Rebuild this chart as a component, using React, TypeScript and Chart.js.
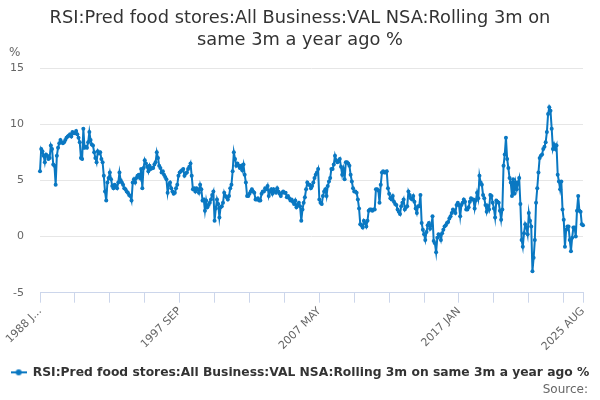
import { useEffect, useRef } from 'react';
import { Chart, registerables } from 'chart.js';

Chart.register(...registerables);
Chart.defaults.font.family = '"DejaVu Sans", sans-serif';

const chartTitle = [
  'RSI:Pred food stores:All Business:VAL NSA:Rolling 3m on',
  'same 3m a year ago %',
];
const seriesName = 'RSI:Pred food stores:All Business:VAL NSA:Rolling 3m on same 3m a year ago %';
const startYear = 1988;
const monthNames = ['JAN', 'FEB', 'MAR', 'APR', 'MAY', 'JUN', 'JUL', 'AUG', 'SEP', 'OCT', 'NOV', 'DEC'];

// % change, one row per year, Jan..Dec
const values1980s = [
  5.8, 7.8, 7.6, 7.2, 6.6, 7.3, 7.2, 6.9, 7.0, 8.1, 7.8, 6.4, // 1988
  6.3, 4.6, 7.2, 7.9, 8.3, 8.6, 8.4, 8.3, 8.4, 8.6, 8.8, 8.9, // 1989
];
const values1990s = [
  9.0, 9.1, 8.9, 9.3, 9.2, 9.2, 9.4, 9.1, 8.8, 8.4, 7.0, 6.9,
  9.6, 7.9, 8.0, 7.9, 8.4, 9.3, 8.6, 8.2, 8.1, 7.5, 7.0, 6.6,
  7.6, 7.4, 7.5, 6.9, 6.6, 5.4, 4.0, 3.2, 4.8, 5.2, 5.7, 5.1,
  4.5, 4.3, 4.6, 4.5, 4.3, 4.8, 5.7, 5.0, 4.8, 4.6, 4.3, 4.2,
  4.0, 3.9, 3.7, 3.6, 3.2, 4.8, 5.1, 4.8, 5.2, 5.4, 5.5, 5.2,
  6.0, 4.3, 6.1, 6.8, 6.5, 6.2, 5.8, 6.3, 6.0, 6.1, 6.1, 6.4,
  6.6, 7.5, 7.0, 6.3, 6.1, 5.7, 5.8, 5.5, 5.3, 5.1, 3.9, 4.6,
  4.8, 4.3, 4.0, 3.8, 3.9, 4.3, 4.6, 5.4, 5.7, 5.8, 5.9, 6.0,
  5.4, 5.6, 5.7, 6.0, 6.2, 6.5, 5.4, 4.2, 4.3, 4.0, 4.3, 4.2,
  3.9, 4.6, 4.2, 3.2, 3.3, 2.3, 3.2, 2.6, 2.8, 3.0, 3.3, 3.7,
];
const values2000s = [
  4.0, 1.4, 2.5, 3.3, 2.9, 1.7, 2.6, 2.7, 3.0, 3.9, 3.6, 3.5,
  3.3, 3.6, 4.3, 4.6, 5.8, 7.5, 6.9, 6.3, 6.5, 6.3, 6.1, 6.3,
  5.9, 6.4, 5.5, 4.8, 3.6, 3.6, 3.8, 4.0, 4.2, 4.0, 3.9, 3.3,
  3.3, 3.4, 3.2, 3.2, 3.8, 4.0, 4.0, 4.3, 4.2, 4.5, 3.6, 4.0,
  4.2, 3.8, 4.2, 4.0, 3.9, 4.3, 4.0, 3.8, 3.6, 3.9, 4.0, 3.9,
  3.9, 3.5, 3.6, 3.4, 3.2, 3.3, 3.1, 2.9, 3.2, 2.6, 2.8, 3.0,
  2.7, 1.4, 2.4, 3.0, 3.5, 4.2, 4.8, 4.6, 4.6, 4.3, 4.5, 4.8,
  5.2, 5.5, 5.7, 6.0, 3.3, 3.0, 2.9, 3.6, 4.0, 4.2, 3.6, 4.5,
  4.9, 5.2, 6.0, 6.0, 6.4, 7.2, 6.8, 6.6, 6.7, 6.9, 6.2, 5.5,
  6.0, 5.1, 6.6, 6.6, 6.5, 6.3, 5.5, 4.9, 4.3, 4.0, 4.0, 3.9,
];
const values2010s = [
  3.3, 2.5, 1.1, 1.0, 0.8, 1.4, 1.2, 0.9, 1.4, 2.3, 2.4, 2.4,
  2.3, 2.4, 2.4, 4.2, 4.2, 4.1, 3.0, 4.6, 5.7, 5.8, 5.7, 5.7,
  5.8, 4.3, 3.8, 3.4, 3.3, 3.6, 3.1, 2.9, 2.8, 2.4, 2.2, 2.0,
  2.7, 3.0, 3.3, 2.4, 2.6, 2.7, 4.0, 3.7, 3.4, 3.3, 3.6, 3.1,
  2.5, 2.1, 2.7, 2.7, 3.7, 1.2, 0.6, 0.2, -0.3, 0.4, 1.0, 1.2,
  0.7, 1.0, 1.8, -0.4, -0.6, -1.4, -0.1, 0.2, 0.1, -0.3, 0.3, 0.6,
  0.9, 1.0, 1.2, 1.3, 1.6, 1.8, 2.1, 2.4, 2.3, 2.1, 2.8, 3.0,
  2.8, 1.8, 2.8, 3.0, 3.3, 3.1, 2.4, 2.4, 2.6, 3.1, 3.4, 3.3,
  3.3, 2.5, 3.2, 3.9, 3.4, 5.4, 4.8, 4.6, 3.7, 3.4, 2.8, 2.2,
  2.7, 2.4, 3.7, 3.6, 3.0, 2.5, 1.7, 3.2, 3.1, 3.0, 2.3, 1.5,
];
const values2020s = [
  2.4, 6.3, 7.3, 8.8, 6.9, 6.1, 5.2, 4.8, 3.6, 5.1, 3.8, 4.8,
  4.2, 4.8, 5.2, 2.9, -0.3, -0.9, 0.3, 1.1, 0.8, 0.2, 2.1, 1.4,
  0.9, -3.1, -1.9, -0.3, 3.0, 4.3, 5.7, 7.0, 7.2, 7.3, 7.8, 8.0,
  8.4, 9.3, 10.9, 11.5, 11.2, 9.6, 7.8, 8.2, 7.8, 8.1, 5.5, 4.9,
  4.2, 4.9, 2.4, 1.5, -0.9, 0.6, 0.9, 0.9, -0.3, -1.3, -0.1, 0.8,
  0.8, 0.0, 2.3, 3.6, 2.3, 2.2, 1.1, 1.0,
];

const seriesValues = [...values1980s, ...values1990s, ...values2000s, ...values2010s, ...values2020s];
const categories = seriesValues.map(
  (_, i) => `${startYear + Math.floor(i / 12)} ${monthNames[i % 12]}`
);
const firstTickLabel = '1988 J...';
const tickStep = 29;   // months between tick marks
const labelStep = 116; // months between labels

const lineColor = '#0a78c2';

function makeLegendMarker() {
  const c = document.createElement('canvas');
  c.width = 16;
  c.height = 8;
  const g = c.getContext('2d');
  if (g) {
    g.strokeStyle = lineColor;
    g.lineWidth = 2;
    g.beginPath();
    g.moveTo(0, 4);
    g.lineTo(16, 4);
    g.stroke();
    g.fillStyle = lineColor;
    g.beginPath();
    g.arc(8, 4, 3, 0, Math.PI * 2);
    g.fill();
  }
  return c;
}

const extraText = {
  id: 'extraText',
  afterDraw(chart: Chart) {
    const { ctx, chartArea } = chart;
    ctx.save();
    ctx.fillStyle = '#666';
    ctx.textBaseline = 'middle';
    ctx.font = '12px "DejaVu Sans", sans-serif';
    ctx.textAlign = 'left';
    ctx.fillText('%', 9, chartArea.top - 15);
    ctx.textAlign = 'right';
    ctx.fillText('Source:', 588, 390);
    ctx.restore();
  },
};

export default function App() {
  const chartRef = useRef<HTMLCanvasElement>(null);
  const chartInstance = useRef<Chart | null>(null);

  useEffect(() => {
    if (!chartRef.current) return;
    if (chartInstance.current) chartInstance.current.destroy();
    const ctx = chartRef.current.getContext('2d');
    if (!ctx) return;

    const lastIndex = categories.length - 1;
    const isTick = (i: number) => i % tickStep === 0 || i === lastIndex;
    const isLabel = (i: number) => i % labelStep === 0 || i === lastIndex;

    chartInstance.current = new Chart(ctx, {
      type: 'line',
      data: {
        labels: categories,
        datasets: [
          {
            label: seriesName,
            data: seriesValues,
            borderColor: lineColor,
            backgroundColor: lineColor,
            borderWidth: 2,
            pointRadius: 2,
            pointBorderWidth: 0,
            pointBackgroundColor: lineColor,
            tension: 0,
          },
        ],
      },
      options: {
        animation: false,
        responsive: false,
        layout: { padding: { top: 0, left: 0, right: 0, bottom: 11.5 } },
        plugins: {
          title: {
            display: true,
            text: chartTitle,
            color: '#333',
            font: { size: 17.8, weight: 'normal', lineHeight: 1.25 },
            padding: { top: 7, bottom: 16.5 },
          },
          legend: {
            position: 'bottom',
            labels: {
              usePointStyle: true,
              pointStyle: makeLegendMarker(),
              pointStyleWidth: 16,
              color: '#333',
              font: { size: 12.3, weight: 'bold' },
              padding: 10,
            },
          },
          tooltip: { enabled: false },
        },
        scales: {
          x: {
            ticks: {
              autoSkip: false,
              minRotation: 45,
              maxRotation: 45,
              color: '#666',
              font: { size: 11 },
              padding: 2,
              callback: (_v, index) =>
                isLabel(index) ? (index === 0 ? firstTickLabel : categories[index]) : '',
            },
            grid: {
              drawOnChartArea: false,
              drawTicks: true,
              tickLength: 10,
              color: (c) => (isTick(c.index) ? '#ccd6eb' : 'rgba(0,0,0,0)'),
            },
            border: { display: true, color: '#ccd6eb' },
            afterFit: (s) => {
              s.height = 63.5;
              s.paddingLeft = 0;
              s.paddingRight = 0;
            },
          },
          y: {
            min: -5,
            max: 15,
            ticks: { stepSize: 5, color: '#666', font: { size: 11 }, padding: 16 },
            grid: { color: '#e6e6e6', drawTicks: false },
            border: { display: false },
            afterFit: (s) => {
              s.width = 40;
            },
          },
          yRight: {
            position: 'right',
            display: true,
            grid: { display: false },
            ticks: { display: false },
            border: { display: false },
            afterFit: (s) => {
              s.width = 17;
            },
          },
        },
      },
      plugins: [extraText],
    });

    return () => {
      if (chartInstance.current) {
        chartInstance.current.destroy();
        chartInstance.current = null;
      }
    };
  }, []);

  return (
    <div style={{ position: 'absolute', left: 0, top: 0, width: 600, height: 400, background: '#fff' }}>
      <canvas ref={chartRef} width={600} height={400}></canvas>
    </div>
  );
}
